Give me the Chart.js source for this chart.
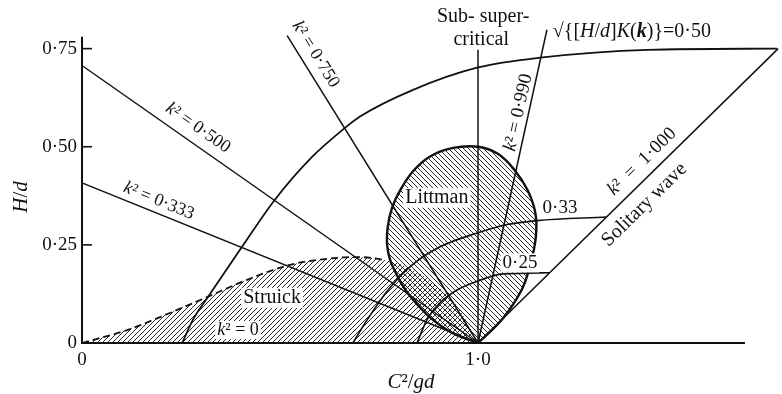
<!DOCTYPE html>
<html lang="en">
<head>
<meta charset="UTF-8">
<title>Wave theory regions</title>
<script src="https://cdn.jsdelivr.net/npm/chart.js"></script>
<style>
  body { margin: 0; background: #fff; }
  canvas { display: block; }
</style>
</head>
<body>
<canvas id="chart" width="782" height="394"></canvas>
<script>
// axis ticks
const xTicks = [0, 1];
const yTicks = [0, 0.25, 0.5, 0.75];

// straight k^2 lines, all meeting at C^2/gd = 1
const k333 = [[0, 0.408], [1, 0]];
const k500 = [[0, 0.707], [1, 0]];
const k750 = [[0.518, 0.783], [1, 0]];
const k990 = [[1.174, 0.798], [1, 0]];
const k1000 = [[1, 0], [1.758, 0.75]];   // solitary wave
const critical = [[1, 0], [1, 0.747]];

// curves sqrt{[H/d]K(k)} = const
const curve050 = [[0.253, 0], [0.280, 0.059], [0.318, 0.117], [0.404, 0.245], [0.487, 0.365],
  [0.581, 0.474], [0.664, 0.548], [0.702, 0.577], [0.836, 0.645], [1.0, 0.702],
  [1.157, 0.727], [1.427, 0.747], [1.755, 0.75]];
const curve033 = [[0.684, 0], [0.720, 0.059], [0.773, 0.135], [0.828, 0.194], [0.904, 0.245],
  [1.0, 0.281], [1.073, 0.302], [1.149, 0.312], [1.324, 0.321]];
const curve025 = [[0.846, 0], [0.871, 0.059], [0.904, 0.102], [0.947, 0.135], [1.0, 0.158],
  [1.063, 0.176], [1.181, 0.179]];

// validity regions
const struick = [[0, 0], [0.114, 0.033], [0.197, 0.066], [0.316, 0.117], [0.417, 0.161],
  [0.525, 0.199], [0.644, 0.217], [0.694, 0.219], [0.76, 0.212], [0.83, 0.19],
  [0.89, 0.15], [0.95, 0.09], [1, 0]];
const littman = [[1, 0], [0.922, 0.033], [0.836, 0.110], [0.785, 0.194], [0.771, 0.245],
  [0.772, 0.295], [0.783, 0.345], [0.805, 0.392], [0.838, 0.440], [0.880, 0.476],
  [0.937, 0.497], [1.0, 0.500], [1.050, 0.482], [1.092, 0.441], [1.125, 0.390],
  [1.145, 0.330], [1.146, 0.270], [1.132, 0.200], [1.110, 0.135], [1.062, 0.062], [1, 0]];

const INK = '#111';
const SERIF = '"Liberation Serif", "DejaVu Serif", serif';

function hatch(dir) {
  const s = 5;
  const c = document.createElement('canvas');
  c.width = s; c.height = s;
  const g = c.getContext('2d');
  g.strokeStyle = INK;
  g.lineWidth = 0.9;
  g.beginPath();
  if (dir > 0) {
    g.moveTo(0, s); g.lineTo(s, 0);
    g.moveTo(-1, 1); g.lineTo(1, -1);
    g.moveTo(s - 1, s + 1); g.lineTo(s + 1, s - 1);
  } else {
    g.moveTo(0, 0); g.lineTo(s, s);
    g.moveTo(-1, s - 1); g.lineTo(1, s + 1);
    g.moveTo(s - 1, -1); g.lineTo(s + 1, 1);
  }
  g.stroke();
  return g.createPattern(c, 'repeat');
}

const toPts = a => a.map(([x, y]) => ({ x, y }));

function lineDs(arr, opts) {
  return Object.assign({
    data: toPts(arr), showLine: true, pointRadius: 0, borderColor: INK,
    borderWidth: 1.5, fill: false, tension: 0, clip: false
  }, opts);
}

// text pieces: [text, italic?, bold?]
function rich(ctx, parts, x, y, angle, size, align, bg) {
  ctx.save();
  ctx.translate(x, y);
  ctx.rotate(angle * Math.PI / 180);
  ctx.textBaseline = 'middle';
  ctx.textAlign = 'left';
  const fonts = parts.map(p => (p[1] ? 'italic ' : '') + (p[2] ? 'bold ' : '') + size + 'px ' + SERIF);
  let w = 0;
  const ws = parts.map((p, i) => { ctx.font = fonts[i]; const m = ctx.measureText(p[0]).width; w += m; return m; });
  let cx = align === 'left' ? 0 : -w / 2;
  if (bg) {
    ctx.fillStyle = '#fff';
    ctx.fillRect(cx - 2, -size * 0.5, w + 4, size * 1.0);
  }
  ctx.fillStyle = INK;
  parts.forEach((p, i) => { ctx.font = fonts[i]; ctx.fillText(p[0], cx, 0); cx += ws[i]; });
  ctx.restore();
}

const axesPlugin = {
  id: 'axes',
  beforeDatasetsDraw(chart) {
    const { ctx, scales: { x, y } } = chart;
    ctx.save();
    ctx.strokeStyle = INK;
    ctx.lineWidth = 2;
    ctx.beginPath();
    ctx.moveTo(x.getPixelForValue(0), y.getPixelForValue(0.78));
    ctx.lineTo(x.getPixelForValue(0), y.getPixelForValue(0));
    ctx.lineTo(x.getPixelForValue(1.674), y.getPixelForValue(0));
    ctx.stroke();
    ctx.lineWidth = 1.6;
    yTicks.slice(1).forEach(v => {
      ctx.beginPath();
      ctx.moveTo(x.getPixelForValue(0), y.getPixelForValue(v));
      ctx.lineTo(x.getPixelForValue(0) + 10, y.getPixelForValue(v));
      ctx.stroke();
    });
    ctx.restore();
  }
};

const textPlugin = {
  id: 'texts',
  afterDatasetsDraw(chart) {
    const { ctx, scales: { x, y } } = chart;
    const px = v => x.getPixelForValue(v), py = v => y.getPixelForValue(v);
    const ang = (a, b) => Math.atan2(py(b[1]) - py(a[1]), px(b[0]) - px(a[0])) * 180 / Math.PI;
    const K = 18, F = 20;
    rich(ctx, [['k', 1], ['² = 0·500']], px(0.293), py(0.548), ang(k500[0], k500[1]), K);
    rich(ctx, [['k', 1], ['² = 0·333']], px(0.194), py(0.362), ang(k333[0], k333[1]), K);
    rich(ctx, [['k', 1], ['² = 0·750']], px(0.590), py(0.735), ang(k750[0], k750[1]), K);
    rich(ctx, [['k', 1], ['² = 0·990']], px(1.102), py(0.587), ang(k990[1], k990[0]), 19);
    rich(ctx, [['k', 1], ['²  =  1·000']], px(1.414), py(0.462), ang(k1000[0], k1000[1]), 19);
    rich(ctx, [['Solitary wave']], px(1.420), py(0.352), ang(k1000[0], k1000[1]), F);
    rich(ctx, [['Sub- super-']], px(1.013), 17, 0, F);
    rich(ctx, [['critical']], px(1.008), 40, 0, F);
    rich(ctx, [['√{['], ['H', 1], ['/'], ['d', 1], [']'], ['K', 1], ['('], ['k', 1, 1], [')}=0·50']],
      px(1.189), 32, 0, F, 'left');
    rich(ctx, [['Littman']], px(0.896), py(0.370), 0, F, 'center', true);
    rich(ctx, [['0·33']], px(1.207), py(0.344), 0, 19);
    rich(ctx, [['0·25']], px(1.106), py(0.204), 0, 19, 'center', true);
    rich(ctx, [['Struick']], px(0.480), py(0.115), 0, F, 'center', true);
    rich(ctx, [['k', 1], ['² = 0']], px(0.394), py(0.033), 0, K, 'center', true);
    rich(ctx, [['H', 1], ['/'], ['d', 1]], 21, 197, -90, 21);
    rich(ctx, [['C', 1], ['²/'], ['gd', 1]], 411, 382, 0, 21);
  }
};

new Chart(document.getElementById('chart'), {
  type: 'scatter',
  data: {
    datasets: [
      lineDs(k333), lineDs(k500), lineDs(k750), lineDs(k990),
      lineDs(k1000), lineDs(critical),
      lineDs(curve050, { borderWidth: 1.8, cubicInterpolationMode: 'monotone' }),
      lineDs(curve033, { borderWidth: 1.7, cubicInterpolationMode: 'monotone' }),
      lineDs(curve025, { borderWidth: 1.7, cubicInterpolationMode: 'monotone' }),
      lineDs(littman, { borderWidth: 2.4, tension: 0.4, fill: 'shape', backgroundColor: hatch(-1) }),
      lineDs(struick, {
        borderWidth: 1.8, borderDash: [7, 4], cubicInterpolationMode: 'monotone',
        fill: 'origin', backgroundColor: hatch(1),
        segment: { borderColor: c => c.p0.parsed.x >= 0.76 ? 'rgba(0,0,0,0)' : INK }
      })
    ]
  },
  options: {
    responsive: false,
    animation: false,
    events: [],
    layout: { padding: { top: 29, right: 3, left: 0, bottom: 0 } },
    plugins: { legend: { display: false }, tooltip: { enabled: false } },
    scales: {
      x: {
        type: 'linear', min: 0, max: 1.76,
        afterFit: s => { s.height = 51; },
        afterBuildTicks: s => { s.ticks = xTicks.map(v => ({ value: v })); },
        grid: { display: false, drawTicks: false },
        border: { display: false },
        ticks: {
          padding: 6, color: INK, font: { family: SERIF, size: 19 },
          callback: v => v === 0 ? '0' : v.toFixed(1).replace('.', '·')
        }
      },
      y: {
        type: 'linear', min: 0, max: 0.8,
        afterFit: s => { s.width = 82; },
        afterBuildTicks: s => { s.ticks = yTicks.map(v => ({ value: v })); },
        grid: { display: false, drawTicks: false },
        border: { display: false },
        ticks: {
          padding: 5, color: INK, font: { family: SERIF, size: 19 },
          callback: v => v === 0 ? '0' : v.toFixed(2).replace('.', '·')
        }
      }
    }
  },
  plugins: [axesPlugin, textPlugin]
});
</script>
</body>
</html>
